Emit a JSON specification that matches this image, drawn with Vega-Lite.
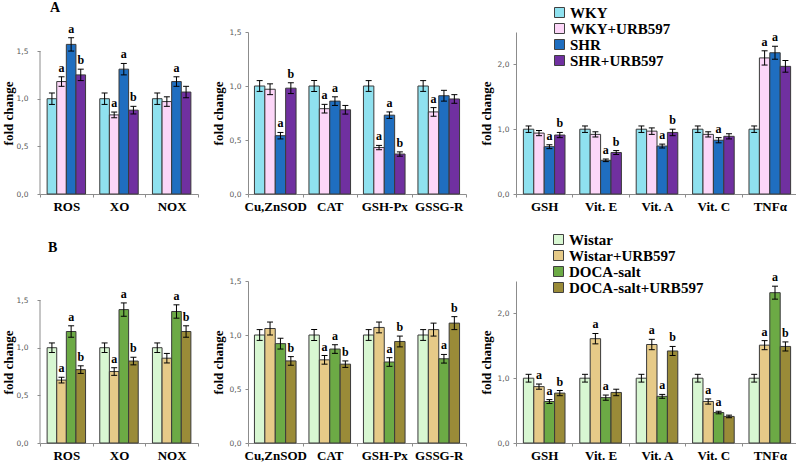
{
"$schema": "https://vega.github.io/schema/vega-lite/v6.json",
"padding": {"left": 2, "top": 0, "right": 0, "bottom": 0},
"config": {
  "font": "DejaVu Sans",
  "view": {"stroke": null},
  "axis": {"grid": false, "domainColor": "#8c8c8c", "tickColor": "#8c8c8c", "domainWidth": 1, "tickWidth": 1},
  "axisX": {"labelAngle": 0, "labelFont": "Liberation Serif", "labelFontWeight": "bold", "labelFontSize": 13, "labelColor": "#000", "tickBand": "extent", "tickSize": 3, "labelPadding": 3},
  "axisY": {"labelFont": "DejaVu Sans", "labelFontSize": 7.5, "labelColor": "#595959", "tickSize": 3, "titleFont": "Liberation Serif", "titleFontWeight": "bold", "titleFontSize": 13, "titleColor": "#000"},
  "title": {"font": "Liberation Serif", "fontWeight": "bold", "fontSize": 14, "color": "#000"}
},
"datasets": {
 "a1": [
  {"c":"ROS","g":"WKY","v":1.00,"lo":0.94,"hi":1.06,"s":""},
  {"c":"ROS","g":"WKY+URB597","v":1.18,"lo":1.13,"hi":1.23,"s":"a"},
  {"c":"ROS","g":"SHR","v":1.57,"lo":1.50,"hi":1.64,"s":"a"},
  {"c":"ROS","g":"SHR+URB597","v":1.25,"lo":1.19,"hi":1.31,"s":"b"},
  {"c":"XO","g":"WKY","v":1.00,"lo":0.94,"hi":1.06,"s":""},
  {"c":"XO","g":"WKY+URB597","v":0.83,"lo":0.80,"hi":0.86,"s":"a"},
  {"c":"XO","g":"SHR","v":1.31,"lo":1.25,"hi":1.37,"s":"a"},
  {"c":"XO","g":"SHR+URB597","v":0.88,"lo":0.84,"hi":0.92,"s":"b"},
  {"c":"NOX","g":"WKY","v":1.00,"lo":0.94,"hi":1.06,"s":""},
  {"c":"NOX","g":"WKY+URB597","v":0.97,"lo":0.92,"hi":1.02,"s":""},
  {"c":"NOX","g":"SHR","v":1.18,"lo":1.13,"hi":1.23,"s":"a"},
  {"c":"NOX","g":"SHR+URB597","v":1.07,"lo":1.01,"hi":1.13,"s":""}
 ],
 "a2": [
  {"c":"Cu,ZnSOD","g":"WKY","v":1.00,"lo":0.95,"hi":1.05,"s":""},
  {"c":"Cu,ZnSOD","g":"WKY+URB597","v":0.97,"lo":0.92,"hi":1.02,"s":""},
  {"c":"Cu,ZnSOD","g":"SHR","v":0.54,"lo":0.51,"hi":0.57,"s":"a"},
  {"c":"Cu,ZnSOD","g":"SHR+URB597","v":0.98,"lo":0.93,"hi":1.03,"s":"b"},
  {"c":"CAT","g":"WKY","v":1.00,"lo":0.95,"hi":1.05,"s":""},
  {"c":"CAT","g":"WKY+URB597","v":0.79,"lo":0.75,"hi":0.83,"s":"a"},
  {"c":"CAT","g":"SHR","v":0.86,"lo":0.82,"hi":0.90,"s":"a"},
  {"c":"CAT","g":"SHR+URB597","v":0.78,"lo":0.74,"hi":0.82,"s":""},
  {"c":"GSH-Px","g":"WKY","v":1.00,"lo":0.95,"hi":1.05,"s":""},
  {"c":"GSH-Px","g":"WKY+URB597","v":0.43,"lo":0.41,"hi":0.45,"s":"a"},
  {"c":"GSH-Px","g":"SHR","v":0.73,"lo":0.70,"hi":0.76,"s":"a"},
  {"c":"GSH-Px","g":"SHR+URB597","v":0.37,"lo":0.35,"hi":0.39,"s":"b"},
  {"c":"GSSG-R","g":"WKY","v":1.00,"lo":0.95,"hi":1.05,"s":""},
  {"c":"GSSG-R","g":"WKY+URB597","v":0.76,"lo":0.72,"hi":0.80,"s":"a"},
  {"c":"GSSG-R","g":"SHR","v":0.91,"lo":0.86,"hi":0.96,"s":""},
  {"c":"GSSG-R","g":"SHR+URB597","v":0.88,"lo":0.84,"hi":0.92,"s":""}
 ],
 "a3": [
  {"c":"GSH","g":"WKY","v":1.00,"lo":0.95,"hi":1.05,"s":""},
  {"c":"GSH","g":"WKY+URB597","v":0.94,"lo":0.90,"hi":0.98,"s":""},
  {"c":"GSH","g":"SHR","v":0.73,"lo":0.70,"hi":0.76,"s":"a"},
  {"c":"GSH","g":"SHR+URB597","v":0.91,"lo":0.87,"hi":0.95,"s":"b"},
  {"c":"Vit. E","g":"WKY","v":1.00,"lo":0.95,"hi":1.05,"s":""},
  {"c":"Vit. E","g":"WKY+URB597","v":0.92,"lo":0.88,"hi":0.96,"s":""},
  {"c":"Vit. E","g":"SHR","v":0.52,"lo":0.50,"hi":0.54,"s":"a"},
  {"c":"Vit. E","g":"SHR+URB597","v":0.64,"lo":0.61,"hi":0.67,"s":"b"},
  {"c":"Vit. A","g":"WKY","v":1.00,"lo":0.95,"hi":1.05,"s":""},
  {"c":"Vit. A","g":"WKY+URB597","v":0.97,"lo":0.92,"hi":1.02,"s":""},
  {"c":"Vit. A","g":"SHR","v":0.74,"lo":0.71,"hi":0.77,"s":"a"},
  {"c":"Vit. A","g":"SHR+URB597","v":0.95,"lo":0.90,"hi":1.00,"s":"b"},
  {"c":"Vit. C","g":"WKY","v":1.00,"lo":0.95,"hi":1.05,"s":""},
  {"c":"Vit. C","g":"WKY+URB597","v":0.92,"lo":0.88,"hi":0.96,"s":""},
  {"c":"Vit. C","g":"SHR","v":0.83,"lo":0.79,"hi":0.87,"s":"a"},
  {"c":"Vit. C","g":"SHR+URB597","v":0.89,"lo":0.85,"hi":0.93,"s":""},
  {"c":"TNFα","g":"WKY","v":1.00,"lo":0.95,"hi":1.05,"s":""},
  {"c":"TNFα","g":"WKY+URB597","v":2.10,"lo":1.99,"hi":2.21,"s":"a"},
  {"c":"TNFα","g":"SHR","v":2.18,"lo":2.08,"hi":2.28,"s":"a"},
  {"c":"TNFα","g":"SHR+URB597","v":1.97,"lo":1.88,"hi":2.06,"s":""}
 ],
 "b1": [
  {"c":"ROS","g":"Wistar","v":1.00,"lo":0.95,"hi":1.05,"s":""},
  {"c":"ROS","g":"Wistar+URB597","v":0.66,"lo":0.63,"hi":0.69,"s":"a"},
  {"c":"ROS","g":"DOCA-salt","v":1.17,"lo":1.11,"hi":1.23,"s":"a"},
  {"c":"ROS","g":"DOCA-salt+URB597","v":0.77,"lo":0.73,"hi":0.81,"s":"b"},
  {"c":"XO","g":"Wistar","v":1.00,"lo":0.95,"hi":1.05,"s":""},
  {"c":"XO","g":"Wistar+URB597","v":0.75,"lo":0.71,"hi":0.79,"s":"a"},
  {"c":"XO","g":"DOCA-salt","v":1.40,"lo":1.33,"hi":1.47,"s":"a"},
  {"c":"XO","g":"DOCA-salt+URB597","v":0.86,"lo":0.82,"hi":0.90,"s":"b"},
  {"c":"NOX","g":"Wistar","v":1.00,"lo":0.95,"hi":1.05,"s":""},
  {"c":"NOX","g":"Wistar+URB597","v":0.89,"lo":0.84,"hi":0.94,"s":""},
  {"c":"NOX","g":"DOCA-salt","v":1.38,"lo":1.31,"hi":1.45,"s":"a"},
  {"c":"NOX","g":"DOCA-salt+URB597","v":1.17,"lo":1.11,"hi":1.23,"s":"b"}
 ],
 "b2": [
  {"c":"Cu,ZnSOD","g":"Wistar","v":1.00,"lo":0.95,"hi":1.05,"s":""},
  {"c":"Cu,ZnSOD","g":"Wistar+URB597","v":1.06,"lo":1.00,"hi":1.12,"s":""},
  {"c":"Cu,ZnSOD","g":"DOCA-salt","v":0.92,"lo":0.87,"hi":0.97,"s":""},
  {"c":"Cu,ZnSOD","g":"DOCA-salt+URB597","v":0.76,"lo":0.72,"hi":0.80,"s":"b"},
  {"c":"CAT","g":"Wistar","v":1.00,"lo":0.95,"hi":1.05,"s":""},
  {"c":"CAT","g":"Wistar+URB597","v":0.77,"lo":0.73,"hi":0.81,"s":"a"},
  {"c":"CAT","g":"DOCA-salt","v":0.87,"lo":0.83,"hi":0.91,"s":"a"},
  {"c":"CAT","g":"DOCA-salt+URB597","v":0.73,"lo":0.70,"hi":0.76,"s":"b"},
  {"c":"GSH-Px","g":"Wistar","v":1.00,"lo":0.95,"hi":1.05,"s":""},
  {"c":"GSH-Px","g":"Wistar+URB597","v":1.07,"lo":1.02,"hi":1.12,"s":""},
  {"c":"GSH-Px","g":"DOCA-salt","v":0.75,"lo":0.71,"hi":0.79,"s":"a"},
  {"c":"GSH-Px","g":"DOCA-salt+URB597","v":0.94,"lo":0.89,"hi":0.99,"s":"b"},
  {"c":"GSSG-R","g":"Wistar","v":1.00,"lo":0.95,"hi":1.05,"s":""},
  {"c":"GSSG-R","g":"Wistar+URB597","v":1.05,"lo":0.99,"hi":1.11,"s":""},
  {"c":"GSSG-R","g":"DOCA-salt","v":0.78,"lo":0.74,"hi":0.82,"s":"a"},
  {"c":"GSSG-R","g":"DOCA-salt+URB597","v":1.11,"lo":1.05,"hi":1.17,"s":"b"}
 ],
 "b3": [
  {"c":"GSH","g":"Wistar","v":1.00,"lo":0.94,"hi":1.06,"s":""},
  {"c":"GSH","g":"Wistar+URB597","v":0.87,"lo":0.83,"hi":0.91,"s":"a"},
  {"c":"GSH","g":"DOCA-salt","v":0.64,"lo":0.61,"hi":0.67,"s":"a"},
  {"c":"GSH","g":"DOCA-salt+URB597","v":0.77,"lo":0.73,"hi":0.81,"s":"b"},
  {"c":"Vit. E","g":"Wistar","v":1.00,"lo":0.94,"hi":1.06,"s":""},
  {"c":"Vit. E","g":"Wistar+URB597","v":1.61,"lo":1.53,"hi":1.69,"s":"a"},
  {"c":"Vit. E","g":"DOCA-salt","v":0.70,"lo":0.66,"hi":0.74,"s":"a"},
  {"c":"Vit. E","g":"DOCA-salt+URB597","v":0.78,"lo":0.73,"hi":0.83,"s":""},
  {"c":"Vit. A","g":"Wistar","v":1.00,"lo":0.94,"hi":1.06,"s":""},
  {"c":"Vit. A","g":"Wistar+URB597","v":1.52,"lo":1.44,"hi":1.60,"s":"a"},
  {"c":"Vit. A","g":"DOCA-salt","v":0.72,"lo":0.69,"hi":0.75,"s":"a"},
  {"c":"Vit. A","g":"DOCA-salt+URB597","v":1.42,"lo":1.35,"hi":1.49,"s":"b"},
  {"c":"Vit. C","g":"Wistar","v":1.00,"lo":0.94,"hi":1.06,"s":""},
  {"c":"Vit. C","g":"Wistar+URB597","v":0.64,"lo":0.60,"hi":0.68,"s":"a"},
  {"c":"Vit. C","g":"DOCA-salt","v":0.47,"lo":0.45,"hi":0.49,"s":"a"},
  {"c":"Vit. C","g":"DOCA-salt+URB597","v":0.41,"lo":0.39,"hi":0.43,"s":""},
  {"c":"TNFα","g":"Wistar","v":1.00,"lo":0.94,"hi":1.06,"s":""},
  {"c":"TNFα","g":"Wistar+URB597","v":1.51,"lo":1.44,"hi":1.58,"s":"a"},
  {"c":"TNFα","g":"DOCA-salt","v":2.32,"lo":2.22,"hi":2.42,"s":"a"},
  {"c":"TNFα","g":"DOCA-salt+URB597","v":1.49,"lo":1.42,"hi":1.56,"s":"b"}
 ]
},
"spacing": 19,
"resolve": {"scale": {"color": "independent", "xOffset": "independent"}},
"vconcat": [
 {
  "title": {"text": "A", "anchor": "start", "dx": 48, "offset": -9.5},
  "bounds": "flush",
  "spacing": 50,
  "resolve": {"scale": {"color": "independent", "xOffset": "independent"}},
  "hconcat": [
   {
    "width": 158, "height": 162,
    "data": {"name": "a1"},
    "layer": [
     {"mark": {"type": "bar", "stroke": "#3a3a3a", "strokeWidth": 1},
      "encoding": {
       "x": {"field": "c", "type": "nominal", "sort": null, "title": null, "scale": {"type": "band", "paddingInner": 0, "paddingOuter": 0}},
       "xOffset": {"field": "g", "type": "nominal", "sort": null, "scale": {"type": "band", "domain": ["WKY", "WKY+URB597", "SHR", "SHR+URB597"], "paddingInner": 0, "paddingOuter": 0.74}},
       "y": {"field": "v", "type": "quantitative", "title": "fold change", "scale": {"domain": [0, 1.7], "nice": false}, "axis": {"values": [0, 0.5, 1, 1.5], "domain": false, "labelExpr": "replace(format(datum.value,'.1f'),'.',',')", "labelPadding": 9, "titlePadding": 1}},
       "color": {"field": "g", "type": "nominal", "sort": null, "scale": {"domain": ["WKY", "WKY+URB597", "SHR", "SHR+URB597"], "range": ["#8FE1EF", "#FCD6F8", "#1F6EC0", "#7030A0"]}, "legend": null}
      }},
     {"mark": {"type": "rule", "color": "#000", "strokeWidth": 1},
      "encoding": {
       "x": {"field": "c", "type": "nominal", "sort": null, "title": null},
       "xOffset": {"field": "g", "type": "nominal", "sort": null},
       "y": {"field": "lo", "type": "quantitative", "title": "fold change"}, "y2": {"field": "hi"}}},
     {"mark": {"type": "tick", "color": "#000", "thickness": 1, "size": 6, "opacity": 1},
      "encoding": {
       "x": {"field": "c", "type": "nominal", "sort": null, "title": null},
       "xOffset": {"field": "g", "type": "nominal", "sort": null},
       "y": {"field": "lo", "type": "quantitative", "title": "fold change"}}},
     {"mark": {"type": "tick", "color": "#000", "thickness": 1, "size": 6, "opacity": 1},
      "encoding": {
       "x": {"field": "c", "type": "nominal", "sort": null, "title": null},
       "xOffset": {"field": "g", "type": "nominal", "sort": null},
       "y": {"field": "hi", "type": "quantitative", "title": "fold change"}}},
     {"mark": {"type": "text", "font": "Liberation Serif", "fontWeight": "bold", "fontSize": 12, "baseline": "bottom", "dy": -2, "color": "#000"},
      "encoding": {
       "x": {"field": "c", "type": "nominal", "sort": null, "title": null},
       "xOffset": {"field": "g", "type": "nominal", "sort": null},
       "y": {"field": "hi", "type": "quantitative", "title": "fold change"}, "text": {"field": "s"}}},
     {"data": {"values": [{"c": "ROS", "y0": 0, "y1": 1.5}]},
      "mark": {"type": "rule", "color": "#8c8c8c", "strokeWidth": 1},
      "encoding": {
       "x": {"field": "c", "type": "nominal", "sort": null, "title": null, "bandPosition": 0},
       "y": {"field": "y0", "type": "quantitative", "title": "fold change"}, "y2": {"field": "y1"}}}
    ]
   },
   {
    "width": 218, "height": 162,
    "data": {"name": "a2"},
    "encoding": {
     "x": {"field": "c", "type": "nominal", "sort": null, "title": null, "scale": {"type": "band", "paddingInner": 0, "paddingOuter": 0}},
     "xOffset": {"field": "g", "type": "nominal", "sort": null, "scale": {"type": "band", "domain": ["WKY", "WKY+URB597", "SHR", "SHR+URB597"], "paddingInner": 0, "paddingOuter": 0.62}}
    },
    "layer": [
     {"mark": {"type": "bar", "stroke": "#3a3a3a", "strokeWidth": 1},
      "encoding": {
       "y": {"field": "v", "type": "quantitative", "title": "fold change", "scale": {"domain": [0, 1.5], "nice": false}, "axis": {"values": [0, 0.5, 1, 1.5], "labelExpr": "replace(format(datum.value,'.1f'),'.',',')", "labelPadding": 4, "titlePadding": 4}},
       "color": {"field": "g", "type": "nominal", "sort": null, "scale": {"domain": ["WKY", "WKY+URB597", "SHR", "SHR+URB597"], "range": ["#8FE1EF", "#FCD6F8", "#1F6EC0", "#7030A0"]}, "legend": null}
      }},
     {"mark": {"type": "rule", "color": "#000", "strokeWidth": 1},
      "encoding": {"y": {"field": "lo", "type": "quantitative", "title": "fold change"}, "y2": {"field": "hi"}}},
     {"mark": {"type": "tick", "color": "#000", "thickness": 1, "size": 6, "opacity": 1},
      "encoding": {"y": {"field": "lo", "type": "quantitative", "title": "fold change"}}},
     {"mark": {"type": "tick", "color": "#000", "thickness": 1, "size": 6, "opacity": 1},
      "encoding": {"y": {"field": "hi", "type": "quantitative", "title": "fold change"}}},
     {"mark": {"type": "text", "font": "Liberation Serif", "fontWeight": "bold", "fontSize": 12, "baseline": "bottom", "dy": -2, "color": "#000"},
      "encoding": {"y": {"field": "hi", "type": "quantitative", "title": "fold change"}, "text": {"field": "s"}}}
    ]
   },
   {
    "width": 282, "height": 162,
    "data": {"name": "a3"},
    "encoding": {
     "x": {"field": "c", "type": "nominal", "sort": null, "title": null, "scale": {"type": "band", "paddingInner": 0, "paddingOuter": 0}},
     "xOffset": {"field": "g", "type": "nominal", "sort": null, "scale": {"type": "band", "domain": ["WKY", "WKY+URB597", "SHR", "SHR+URB597"], "paddingInner": 0, "paddingOuter": 0.71}}
    },
    "layer": [
     {"mark": {"type": "bar", "stroke": "#3a3a3a", "strokeWidth": 1},
      "encoding": {
       "y": {"field": "v", "type": "quantitative", "title": "fold change", "scale": {"domain": [0, 2.5], "nice": false}, "axis": {"values": [0, 0.5, 1, 1.5, 2, 2.5], "labelExpr": "replace(format(datum.value,'.1f'),'.',',')", "labelPadding": 4, "titlePadding": 4}},
       "color": {"field": "g", "type": "nominal", "sort": null, "scale": {"domain": ["WKY", "WKY+URB597", "SHR", "SHR+URB597"], "range": ["#8FE1EF", "#FCD6F8", "#1F6EC0", "#7030A0"]},
        "legend": {"orient": "none", "legendX": 36, "legendY": -27, "title": null, "symbolType": "square", "symbolSize": 100, "symbolStrokeColor": "#404040", "symbolStrokeWidth": 1, "symbolOpacity": 1, "labelFont": "Liberation Serif", "labelFontWeight": "bold", "labelFontSize": 15, "labelColor": "#000", "rowPadding": 0, "labelOffset": 3, "padding": 0}}
      }},
     {"mark": {"type": "rule", "color": "#000", "strokeWidth": 1},
      "encoding": {"y": {"field": "lo", "type": "quantitative", "title": "fold change"}, "y2": {"field": "hi"}}},
     {"mark": {"type": "tick", "color": "#000", "thickness": 1, "size": 6, "opacity": 1},
      "encoding": {"y": {"field": "lo", "type": "quantitative", "title": "fold change"}}},
     {"mark": {"type": "tick", "color": "#000", "thickness": 1, "size": 6, "opacity": 1},
      "encoding": {"y": {"field": "hi", "type": "quantitative", "title": "fold change"}}},
     {"mark": {"type": "text", "font": "Liberation Serif", "fontWeight": "bold", "fontSize": 12, "baseline": "bottom", "dy": -2, "color": "#000"},
      "encoding": {"y": {"field": "hi", "type": "quantitative", "title": "fold change"}, "text": {"field": "s"}}}
    ]
   }
  ]
 },
 {
  "title": {"text": "B", "anchor": "start", "dx": 46, "offset": -23},
  "bounds": "flush",
  "spacing": 50,
  "resolve": {"scale": {"color": "independent", "xOffset": "independent"}},
  "hconcat": [
   {
    "width": 158, "height": 162,
    "data": {"name": "b1"},
    "layer": [
     {"mark": {"type": "bar", "stroke": "#3a3a3a", "strokeWidth": 1},
      "encoding": {
       "x": {"field": "c", "type": "nominal", "sort": null, "title": null, "scale": {"type": "band", "paddingInner": 0, "paddingOuter": 0}},
       "xOffset": {"field": "g", "type": "nominal", "sort": null, "scale": {"type": "band", "domain": ["Wistar", "Wistar+URB597", "DOCA-salt", "DOCA-salt+URB597"], "paddingInner": 0, "paddingOuter": 0.74}},
       "y": {"field": "v", "type": "quantitative", "title": "fold change", "scale": {"domain": [0, 1.7], "nice": false}, "axis": {"values": [0, 0.5, 1, 1.5], "domain": false, "labelExpr": "replace(format(datum.value,'.1f'),'.',',')", "labelPadding": 9, "titlePadding": 1}},
       "color": {"field": "g", "type": "nominal", "sort": null, "scale": {"domain": ["Wistar", "Wistar+URB597", "DOCA-salt", "DOCA-salt+URB597"], "range": ["#D8F7D2", "#E6CA88", "#6CAA45", "#9A8B38"]}, "legend": null}
      }},
     {"mark": {"type": "rule", "color": "#000", "strokeWidth": 1},
      "encoding": {
       "x": {"field": "c", "type": "nominal", "sort": null, "title": null},
       "xOffset": {"field": "g", "type": "nominal", "sort": null},
       "y": {"field": "lo", "type": "quantitative", "title": "fold change"}, "y2": {"field": "hi"}}},
     {"mark": {"type": "tick", "color": "#000", "thickness": 1, "size": 6, "opacity": 1},
      "encoding": {
       "x": {"field": "c", "type": "nominal", "sort": null, "title": null},
       "xOffset": {"field": "g", "type": "nominal", "sort": null},
       "y": {"field": "lo", "type": "quantitative", "title": "fold change"}}},
     {"mark": {"type": "tick", "color": "#000", "thickness": 1, "size": 6, "opacity": 1},
      "encoding": {
       "x": {"field": "c", "type": "nominal", "sort": null, "title": null},
       "xOffset": {"field": "g", "type": "nominal", "sort": null},
       "y": {"field": "hi", "type": "quantitative", "title": "fold change"}}},
     {"mark": {"type": "text", "font": "Liberation Serif", "fontWeight": "bold", "fontSize": 12, "baseline": "bottom", "dy": -2, "color": "#000"},
      "encoding": {
       "x": {"field": "c", "type": "nominal", "sort": null, "title": null},
       "xOffset": {"field": "g", "type": "nominal", "sort": null},
       "y": {"field": "hi", "type": "quantitative", "title": "fold change"}, "text": {"field": "s"}}},
     {"data": {"values": [{"c": "ROS", "y0": 0, "y1": 1.5}]},
      "mark": {"type": "rule", "color": "#8c8c8c", "strokeWidth": 1},
      "encoding": {
       "x": {"field": "c", "type": "nominal", "sort": null, "title": null, "bandPosition": 0},
       "y": {"field": "y0", "type": "quantitative", "title": "fold change"}, "y2": {"field": "y1"}}}
    ]
   },
   {
    "width": 218, "height": 162,
    "data": {"name": "b2"},
    "encoding": {
     "x": {"field": "c", "type": "nominal", "sort": null, "title": null, "scale": {"type": "band", "paddingInner": 0, "paddingOuter": 0}},
     "xOffset": {"field": "g", "type": "nominal", "sort": null, "scale": {"type": "band", "domain": ["Wistar", "Wistar+URB597", "DOCA-salt", "DOCA-salt+URB597"], "paddingInner": 0, "paddingOuter": 0.62}}
    },
    "layer": [
     {"mark": {"type": "bar", "stroke": "#3a3a3a", "strokeWidth": 1},
      "encoding": {
       "y": {"field": "v", "type": "quantitative", "title": "fold change", "scale": {"domain": [0, 1.5], "nice": false}, "axis": {"values": [0, 0.5, 1, 1.5], "labelExpr": "replace(format(datum.value,'.1f'),'.',',')", "labelPadding": 4, "titlePadding": 4}},
       "color": {"field": "g", "type": "nominal", "sort": null, "scale": {"domain": ["Wistar", "Wistar+URB597", "DOCA-salt", "DOCA-salt+URB597"], "range": ["#D8F7D2", "#E6CA88", "#6CAA45", "#9A8B38"]}, "legend": null}
      }},
     {"mark": {"type": "rule", "color": "#000", "strokeWidth": 1},
      "encoding": {"y": {"field": "lo", "type": "quantitative", "title": "fold change"}, "y2": {"field": "hi"}}},
     {"mark": {"type": "tick", "color": "#000", "thickness": 1, "size": 6, "opacity": 1},
      "encoding": {"y": {"field": "lo", "type": "quantitative", "title": "fold change"}}},
     {"mark": {"type": "tick", "color": "#000", "thickness": 1, "size": 6, "opacity": 1},
      "encoding": {"y": {"field": "hi", "type": "quantitative", "title": "fold change"}}},
     {"mark": {"type": "text", "font": "Liberation Serif", "fontWeight": "bold", "fontSize": 12, "baseline": "bottom", "dy": -2, "color": "#000"},
      "encoding": {"y": {"field": "hi", "type": "quantitative", "title": "fold change"}, "text": {"field": "s"}}}
    ]
   },
   {
    "width": 282, "height": 162,
    "data": {"name": "b3"},
    "encoding": {
     "x": {"field": "c", "type": "nominal", "sort": null, "title": null, "scale": {"type": "band", "paddingInner": 0, "paddingOuter": 0}},
     "xOffset": {"field": "g", "type": "nominal", "sort": null, "scale": {"type": "band", "domain": ["Wistar", "Wistar+URB597", "DOCA-salt", "DOCA-salt+URB597"], "paddingInner": 0, "paddingOuter": 0.71}}
    },
    "layer": [
     {"mark": {"type": "bar", "stroke": "#3a3a3a", "strokeWidth": 1},
      "encoding": {
       "y": {"field": "v", "type": "quantitative", "title": "fold change", "scale": {"domain": [0, 2.5], "nice": false}, "axis": {"values": [0, 0.5, 1, 1.5, 2, 2.5], "labelExpr": "replace(format(datum.value,'.1f'),'.',',')", "labelPadding": 4, "titlePadding": 4}},
       "color": {"field": "g", "type": "nominal", "sort": null, "scale": {"domain": ["Wistar", "Wistar+URB597", "DOCA-salt", "DOCA-salt+URB597"], "range": ["#D8F7D2", "#E6CA88", "#6CAA45", "#9A8B38"]},
        "legend": {"orient": "none", "legendX": 35, "legendY": -49, "title": null, "symbolType": "square", "symbolSize": 100, "symbolStrokeColor": "#404040", "symbolStrokeWidth": 1, "symbolOpacity": 1, "labelFont": "Liberation Serif", "labelFontWeight": "bold", "labelFontSize": 15, "labelColor": "#000", "rowPadding": 0, "labelOffset": 3, "padding": 0}}
      }},
     {"mark": {"type": "rule", "color": "#000", "strokeWidth": 1},
      "encoding": {"y": {"field": "lo", "type": "quantitative", "title": "fold change"}, "y2": {"field": "hi"}}},
     {"mark": {"type": "tick", "color": "#000", "thickness": 1, "size": 6, "opacity": 1},
      "encoding": {"y": {"field": "lo", "type": "quantitative", "title": "fold change"}}},
     {"mark": {"type": "tick", "color": "#000", "thickness": 1, "size": 6, "opacity": 1},
      "encoding": {"y": {"field": "hi", "type": "quantitative", "title": "fold change"}}},
     {"mark": {"type": "text", "font": "Liberation Serif", "fontWeight": "bold", "fontSize": 12, "baseline": "bottom", "dy": -2, "color": "#000"},
      "encoding": {"y": {"field": "hi", "type": "quantitative", "title": "fold change"}, "text": {"field": "s"}}}
    ]
   }
  ]
 }
]
}
